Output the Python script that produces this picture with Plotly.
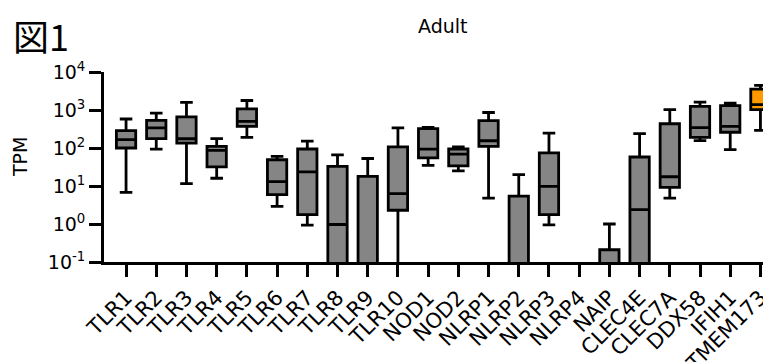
import plotly.graph_objects as go

categories = ["TLR1", "TLR2", "TLR3", "TLR4", "TLR5", "TLR6", "TLR7", "TLR8", "TLR9", "TLR10",
              "NOD1", "NOD2", "NLRP1", "NLRP2", "NLRP3", "NLRP4", "NAIP", "CLEC4E", "CLEC7A",
              "DDX58", "IFIH1", "TMEM173"]
upper_whisker = [580, 830, 1580, 176, 1780, 60, 152, 66, 53, 340,
                 350, 107, 860, 20, 245, 0.02, 1.0, 240, 1020, 1620, 1520, 4450]
q3_values = [285, 535, 660, 110, 1070, 49, 94, 33, 18, 107,
             325, 94, 525, 5.4, 74, 0.02, 0.21, 58, 435, 1240, 1310, 3560]
median_values = [167, 340, 175, 87, 500, 13, 23.5, 0.97, 0.02, 6.3,
                 93, 69, 155, 0.02, 9.8, 0.02, 0.02, 2.4, 17.5, 345, 370, 1380]
q1_values = [100, 176, 135, 32, 370, 5.9, 1.76, 0.02, 0.02, 2.3,
             55, 34, 110, 0.02, 1.76, 0.02, 0.02, 0.02, 9.2, 190, 260, 1020]
lower_whisker = [6.8, 93, 11.5, 16, 190, 2.9, 0.93, 0.01, 0.01, 0.01,
                 35, 25, 4.8, 0.01, 0.95, 0.01, 0.01, 0.01, 4.8, 156, 91, 290]
highlight = "TMEM173"
y_tick_values = [0.1, 1, 10, 100, 1000, 10000]
y_tick_labels = ["10<sup>-1</sup>", "10<sup>0</sup>", "10<sup>1</sup>", "10<sup>2</sup>",
                 "10<sup>3</sup>", "10<sup>4</sup>"]

fig = go.Figure()
for i, c in enumerate(categories):
    color = "#FF9900" if c == highlight else "#858585"
    fig.add_trace(go.Box(
        x=[c], q1=[q1_values[i]], median=[median_values[i]], q3=[q3_values[i]],
        lowerfence=[lower_whisker[i]], upperfence=[upper_whisker[i]],
        fillcolor=color, line=dict(color="black", width=2.8),
        width=0.64, whiskerwidth=0.65, boxpoints=False, showlegend=False,
        hoverinfo="skip"))

FONT = "DejaVu Sans, Liberation Sans, sans-serif"
# page body has an 8px margin, so the figure is offset by 8px
W, H = 763, 354
L, R, T, B = 96, 0, 64, 100
PW = W - L - R
PH = H - T - B


def px_x(x):  # screen x -> paper
    return (x - 8 - L) / PW


def px_y(y):  # screen y -> paper
    return (T + PH + 8 - y) / PH


fig.update_layout(
    width=W, height=H, margin=dict(l=L, r=R, t=T, b=B, autoexpand=False),
    plot_bgcolor="white", paper_bgcolor="white",
    font=dict(family=FONT, color="black"),
    xaxis=dict(categoryorder="array", categoryarray=categories,
               range=[-0.73, 21.35], showline=True, linecolor="black", linewidth=2.8,
               ticks="outside", ticklen=12, tickwidth=2.6, tickcolor="black",
               tickangle=-45, tickfont=dict(size=21, family=FONT), showgrid=False,
               zeroline=False, automargin=False),
    yaxis=dict(type="log", range=[-1, 4], tickvals=y_tick_values, ticktext=y_tick_labels,
               showline=True, linecolor="black", linewidth=2.8, ticks="outside",
               ticklen=12, tickwidth=2.6, tickcolor="black",
               tickfont=dict(size=19, family=FONT), showgrid=False, zeroline=False,
               automargin=False),
    annotations=[
        dict(text="図1", x=px_x(11), y=px_y(35), xref="paper", yref="paper",
             xanchor="left", yanchor="middle", showarrow=False,
             font=dict(size=36, family="Noto Sans CJK JP", color="black")),
        dict(text="Adult", x=px_x(443), y=px_y(26), xref="paper",
             yref="paper", xanchor="center", yanchor="middle", showarrow=False,
             font=dict(size=19, family=FONT, color="black")),
        dict(text="TPM", x=px_x(20), y=px_y(157), xref="paper", yref="paper",
             xanchor="center", yanchor="middle", textangle=-90, showarrow=False,
             font=dict(size=19, family=FONT, color="black")),
    ],
)
fig.write_html("out.html")
